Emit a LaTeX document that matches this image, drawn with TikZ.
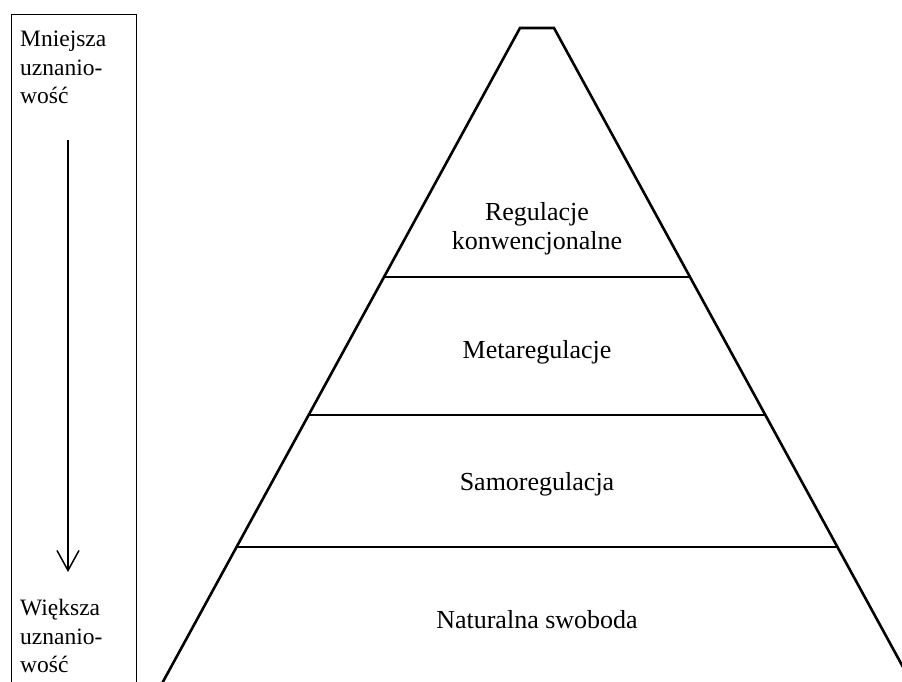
\documentclass[tikz,border=0pt]{standalone}
\usepackage{fontspec}
\setmainfont{Liberation Serif}
\usetikzlibrary{arrows.meta,positioning}

\begin{document}
\begin{tikzpicture}[x=1pt,y=-1pt,
layer/.style={line width=2.6pt},
side/.style={line width=1pt},
tier/.style={font=\fontsize{26}{29}\selectfont,align=center},
sidetext/.style={font=\fontsize{23.5}{28.5}\selectfont,align=left,
inner sep=0pt,anchor=north west},
]
\useasboundingbox (0,0) rectangle (902,681);
\clip (0,0) rectangle (902,681);
% side column
\draw[side] (11,700) |- (136,14) -- (136,700);
\node[sidetext] (mniej) at (20,31) {Mniejsza\\uznanio-\\wość};
\node[sidetext] (wiek) at (20,599) {Większa\\uznanio-\\wość};
\coordinate (arrtop) at (68,140);
\coordinate (arrbot) at (68,572);
\draw[line width=1.5pt,-{Straight Barb[length=20pt,width=22pt]}] (arrtop) -- (arrbot);
% pyramid
\coordinate (topl) at (520,28);
\coordinate (topr) at (554,28);
\coordinate (botl) at (153,700);
\coordinate (botr) at (921,700);
\draw[layer] (botl) -- (topl) -- (topr) -- (botr);
\coordinate (b1l) at (384,277);
\coordinate (b1r) at (690,277);
\coordinate (b2l) at (309,415);
\coordinate (b2r) at (765,415);
\coordinate (b3l) at (237,547);
\coordinate (b3r) at (837,547);
\draw[layer] (b1l) -- (b1r);
\draw[layer] (b2l) -- (b2r);
\draw[layer] (b3l) -- (b3r);
\node[tier] (konw) at (537,229) {Regulacje\\konwencjonalne};
\node[tier,anchor=base] (meta) at (537,358) {Metaregulacje};
\node[tier,anchor=base] (samo) at (537,490) {Samoregulacja};
\node[tier,anchor=base] (natur) at (537,628) {Naturalna swoboda};
\end{tikzpicture}
\end{document}
